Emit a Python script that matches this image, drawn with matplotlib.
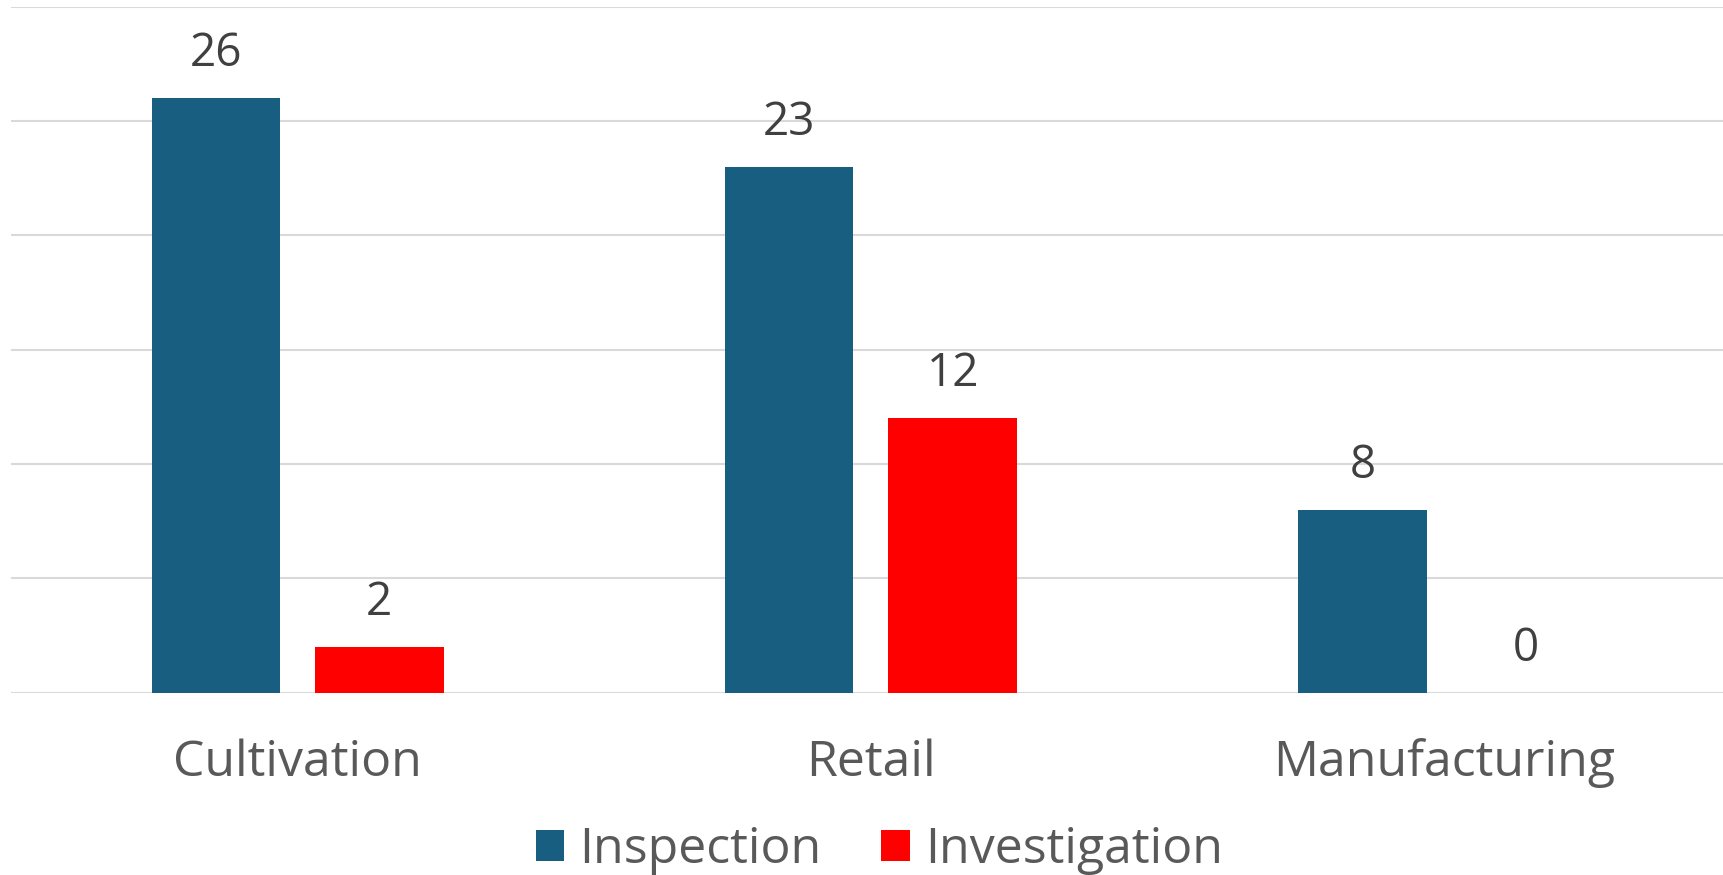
import matplotlib.pyplot as plt
import numpy as np

categories = ["Cultivation", "Retail", "Manufacturing"]
inspection = [26, 23, 8]
investigation = [2, 12, 0]

blue = "#175E80"
red = "#FF0000"

plt.rcParams["font.family"] = ["Open Sans", "DejaVu Sans"]

fig = plt.figure(figsize=(17.24, 8.75), dpi=100)
ax = fig.add_axes([0.0064, 0.2083, 0.9936, 0.7842])

x = np.arange(len(categories))
width = 0.224
offset = 0.1425

b1 = ax.bar(x - offset, inspection, width, color=blue, label="Inspection", zorder=2)
b2 = ax.bar(x + offset, investigation, width, color=red, label="Investigation", zorder=2)

for bars, vals in [(b1, inspection), (b2, investigation)]:
    for bar, v in zip(bars, vals):
        ax.annotate(str(v), (bar.get_x() + bar.get_width() / 2, v),
                    xytext=(0, 15), textcoords="offset points",
                    ha="center", va="bottom", fontsize=33, color="#404040")

ax.set_xlim(-0.5, 2.488)
ax.set_ylim(0, 30)
ax.set_yticks(range(0, 31, 5))
ax.yaxis.grid(True, color="#d9d9d9", linewidth=1.5, zorder=0)
ax.tick_params(left=False, labelleft=False, bottom=False, labelbottom=False)
for s in ax.spines.values():
    s.set_visible(False)

for xi, cat in zip(x, categories):
    fig.text(ax.transData.transform((xi, 0))[0] / fig.bbox.width, 0.128, cat,
             ha="center", va="center", fontsize=36, color="#595959")

fig.legend(handles=[b1, b2], loc="center", bbox_to_anchor=(0.51, 0.028),
           ncol=2, frameon=False, fontsize=36, labelcolor="#595959",
           handlelength=0.57, handleheight=0.57, handletextpad=0.3, columnspacing=1.2)

plt.savefig("out.png", dpi=100)
